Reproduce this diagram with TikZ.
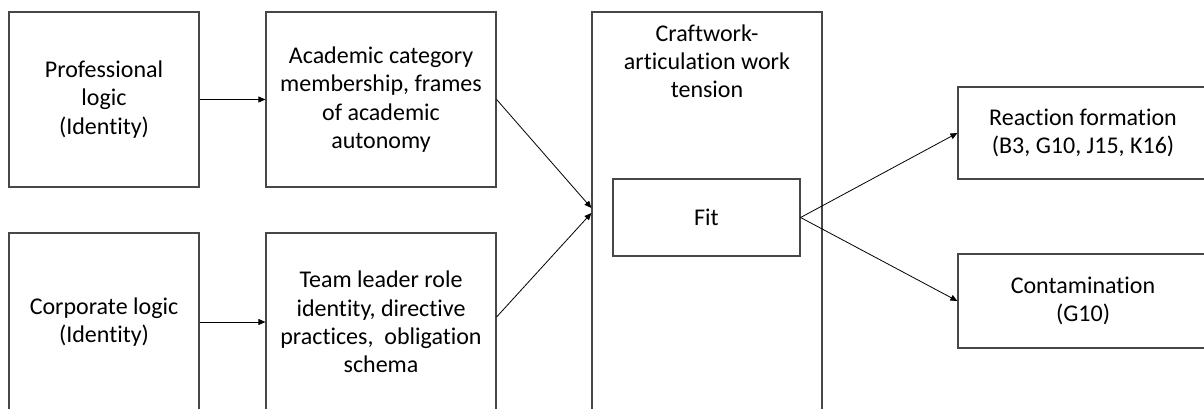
\documentclass[tikz,border=0pt]{standalone}
\usepackage{fontspec}
\setmainfont{Carlito}[Ligatures=NoCommon]
\usetikzlibrary{arrows.meta, positioning}

\begin{document}
\begin{tikzpicture}[
        x=1pt, y=-1pt,
        box/.style={
            draw=black!72,
            line width=1.2pt,
            inner sep=0pt,
            font=\fontsize{24}{28.3}\selectfont,
            align=center
          },
        title/.style={
            inner sep=0pt,
            font=\fontsize{24}{28.3}\selectfont,
            align=center
          },
        arr/.style={-{Triangle[length=7pt,width=6pt]}, black, line width=0.8pt}
      ]
      \useasboundingbox (0,0) rectangle (1204,408);
      \clip (0,0) rectangle (1204,408);

      % left column
      \node[box, minimum width=190pt, minimum height=175pt] (prof) at (104,99.5) {Professional\\logic\\(Identity)};
      \node[box, minimum width=190pt, minimum height=178pt] (corp) at (104,322) {Corporate logic\\(Identity)};

      % second column
      \node[box, minimum width=230pt, minimum height=175pt] (acad) at (381,99.5) {Academic category\\membership, frames\\of academic\\autonomy};
      \node[box, minimum width=230pt, minimum height=178pt] (team) at (381,322) {Team leader role\\identity, directive\\practices,\ \ obligation\\schema};

      % tension box
      \node[box, minimum width=230pt, minimum height=399pt] (craft) at (707,211.5) {};
      \node[title, anchor=north] (crafttitle) at ([yshift=-13pt]craft.north) {Craftwork-\\articulation work\\tension};
      \node[box, minimum width=187pt, minimum height=77pt] (fit) at (706.5,217.5) {Fit};

      % outcomes
      \node[box, minimum width=250pt, minimum height=92pt] (react) at (1083,133) {Reaction formation\\(B3, G10, J15, K16)};
      \node[box, minimum width=250pt, minimum height=94pt] (cont) at (1083,301) {Contamination\\(G10)};

      \draw[arr] (prof) -- (acad);
      \draw[arr] (corp) -- (team);
      \draw[arr] (acad.east) -- ([yshift=3.5pt]craft.west);
      \draw[arr] ([yshift=5pt]team.east) -- ([yshift=-1.5pt]craft.west);
      \draw[arr] (fit.east) -- (react.west);
      \draw[arr] (fit.east) -- (cont.west);
    \end{tikzpicture}
\end{document}
